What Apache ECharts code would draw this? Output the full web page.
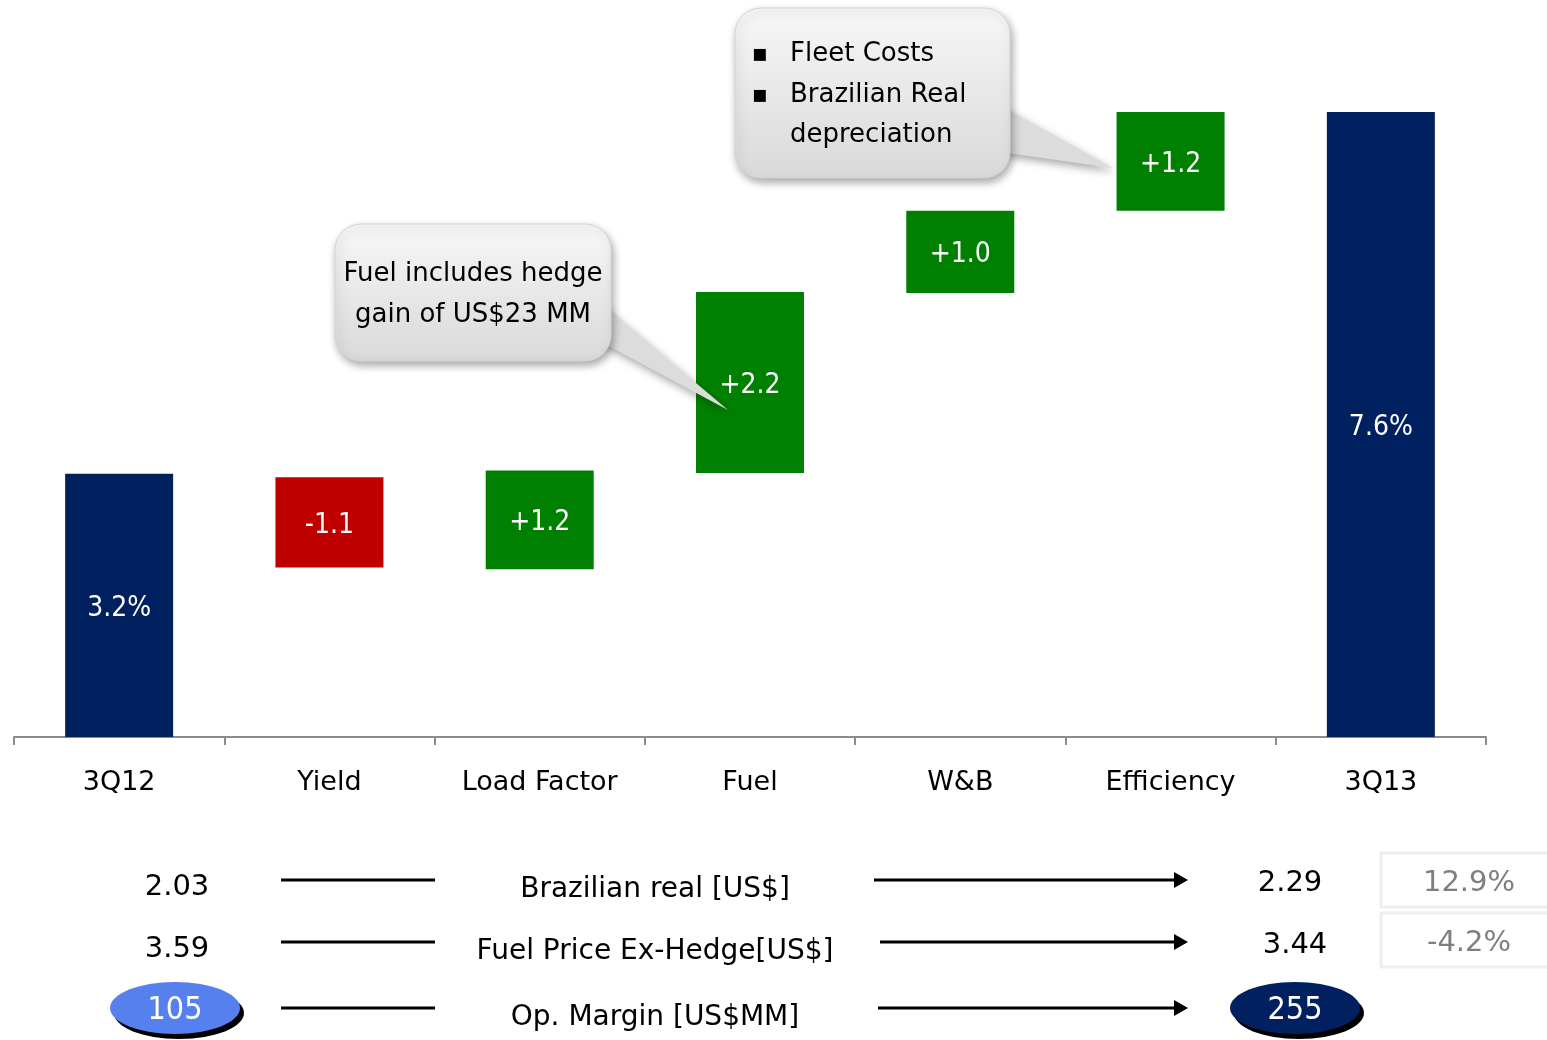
<!DOCTYPE html>
<html>
<head>
<meta charset="utf-8">
<script src="https://cdn.jsdelivr.net/npm/echarts@6/dist/echarts.min.js"></script>
<style>
  html, body { margin: 0; padding: 0; background: #fff; }
  #chart { width: 1547px; height: 1040px; }
</style>
</head>
<body>
<div id="chart"></div>
<script>
// waterfall data
const categories = ["3Q12", "Yield", "Load Factor", "Fuel", "W&B", "Efficiency", "3Q13"];
const changeValues = [3.2, 1.1, 1.2, 2.2, 1.0, 1.2, 7.6];
const baseValues = [0, 2.06, 2.04, 3.21, 5.4, 6.4, 0];
const barLabels = ["3.2%", "-1.1", "+1.2", "+2.2", "+1.0", "+1.2", "7.6%"];
const barKinds = ["total", "down", "up", "up", "up", "up", "total"];

// bottom table
const rowNames = ["Brazilian real [US$]", "Fuel Price Ex-Hedge[US$]", "Op. Margin [US$MM]"];
const startValues = ["2.03", "3.59", "105"];
const endValues = ["2.29", "3.44", "255"];
const changePct = ["12.9%", "-4.2%"];

const FONT = "'DejaVu Sans', sans-serif";
const FONT_NARROW = "'DejaVu Sans Condensed', 'DejaVu Sans', sans-serif";
const kindColors = { total: "#002060", down: "#C00000", up: "#008000" };

const chart = echarts.init(document.getElementById("chart"));

function text(str, x, y, size, color, align, family) {
  return {
    type: "text",
    z: 20,
    style: {
      text: str, x: x, y: y,
      font: size + "px " + (family || FONT),
      fill: color || "#000",
      textAlign: align || "center",
      textVerticalAlign: "middle",
    },
  };
}

function arrow(x1, x2, y) {
  return [
    { type: "line", z: 10, shape: { x1: x1, y1: y, x2: x2 - 12, y2: y }, style: { stroke: "#000", lineWidth: 3 } },
    { type: "polygon", z: 10, shape: { points: [[x2 - 14, y - 8], [x2, y], [x2 - 14, y + 8]] }, style: { fill: "#000" } },
  ];
}

function plainLine(x1, x2, y) {
  return { type: "line", z: 10, shape: { x1: x1, y1: y, x2: x2, y2: y }, style: { stroke: "#000", lineWidth: 3 } };
}

function oval(cx, cy, color, label) {
  return [
    { type: "ellipse", z: 10, shape: { cx: cx + 4, cy: cy + 5, rx: 65, ry: 26 }, style: { fill: "#000" } },
    { type: "ellipse", z: 11, shape: { cx: cx, cy: cy, rx: 65, ry: 26 }, style: { fill: color } },
    text(label, cx, cy + 3, 32, "#fff", "center", FONT_NARROW),
  ];
}

function callout(x, y, w, h, p1, p2, tip) {
  const fill = {
    type: "linear", x: 0, y: y, x2: 0, y2: y + h, global: true,
    colorStops: [{ offset: 0, color: "#f7f7f7" }, { offset: 1, color: "#d9d9d9" }],
  };
  const shadow = { shadowBlur: 8, shadowColor: "rgba(0,0,0,0.35)", shadowOffsetX: 2, shadowOffsetY: 4 };
  return [
    { type: "polygon", z: 5, shape: { points: [[x + w - 10, p1], tip, [x + w - 10, p2]] }, style: Object.assign({ fill: "#dcdcdc" }, shadow) },
    { type: "rect", z: 6, shape: { x: x, y: y, width: w, height: h, r: 26 }, style: Object.assign({ fill: fill, stroke: "#d4d4d4", lineWidth: 1 }, shadow) },
  ];
}

const graphics = [];
// callouts
graphics.push(...callout(735, 8, 275, 170, 105, 152, [1113, 168]));
graphics.push(text("\u25AA", 760, 55, 24, "#000"));
graphics.push(text("\u25AA", 760, 96, 24, "#000"));
graphics.push(text("Fleet Costs", 790, 54, 26, "#000", "left"));
graphics.push(text("Brazilian Real", 790, 95, 26, "#000", "left"));
graphics.push(text("depreciation", 790, 135, 26, "#000", "left"));

graphics.push(...callout(335, 224, 276, 137, 303, 342, [728, 410]));
graphics.push(text("Fuel includes hedge", 473, 274, 26, "#000"));
graphics.push(text("gain of US$23 MM", 473, 315, 26, "#000"));

// bottom table
const rowY = [880, 942, 1008];
const arrowStart = [874, 880, 878];
const endX = [1290, 1295, 1295];
rowNames.forEach((name, i) => {
  const y = rowY[i];
  if (i < 2) {
    graphics.push(text(startValues[i], 177, y + 7, 29, "#000"));
    graphics.push(text(endValues[i], endX[i], y + 3, 29, "#000"));
  } else {
    graphics.push(...oval(175, y, "#5580EE", startValues[i]));
    graphics.push(...oval(1295, y, "#002060", endValues[i]));
  }
  graphics.push(plainLine(281, 435, y));
  graphics.push(text(name, 655, y + 10, 28, "#000"));
  graphics.push(...arrow(arrowStart[i], 1188, y));
});
changePct.forEach((pct, i) => {
  const y = [853, 913][i];
  graphics.push({ type: "rect", z: 8, shape: { x: 1381, y: y, width: 170, height: 54 }, style: { fill: "#fff", stroke: "#eeeeee", lineWidth: 3 } });
  graphics.push(text(pct, 1469, y + 30, 29, "#7f7f7f"));
});

const option = {
  animation: false,
  textStyle: { fontFamily: FONT },
  grid: { left: 14, right: 61, top: 38, bottom: 303, containLabel: false },
  xAxis: {
    type: "category",
    data: categories,
    axisLine: { lineStyle: { color: "#8c8c8c", width: 2 } },
    axisTick: { show: true, length: 8, lineStyle: { color: "#8c8c8c", width: 2 } },
    axisLabel: { color: "#000", fontSize: 27, margin: 32, interval: 0, fontFamily: FONT },
  },
  yAxis: { type: "value", min: 0, max: 8.5, show: false, splitLine: { show: false } },
  series: [
    {
      type: "bar",
      stack: "wf",
      data: baseValues,
      barWidth: 108,
      itemStyle: { color: "transparent" },
      silent: true,
    },
    {
      type: "bar",
      stack: "wf",
      barWidth: 108,
      data: changeValues.map((v, i) => ({
        value: v,
        itemStyle: { color: kindColors[barKinds[i]] },
      })),
      label: {
        show: true,
        position: "inside",
        color: "#fff",
        fontSize: 28,
        fontFamily: FONT_NARROW,
        offset: [0, 3],
        formatter: (p) => barLabels[p.dataIndex],
      },
    },
  ],
  graphic: graphics,
};

chart.setOption(option);
</script>
</body>
</html>
